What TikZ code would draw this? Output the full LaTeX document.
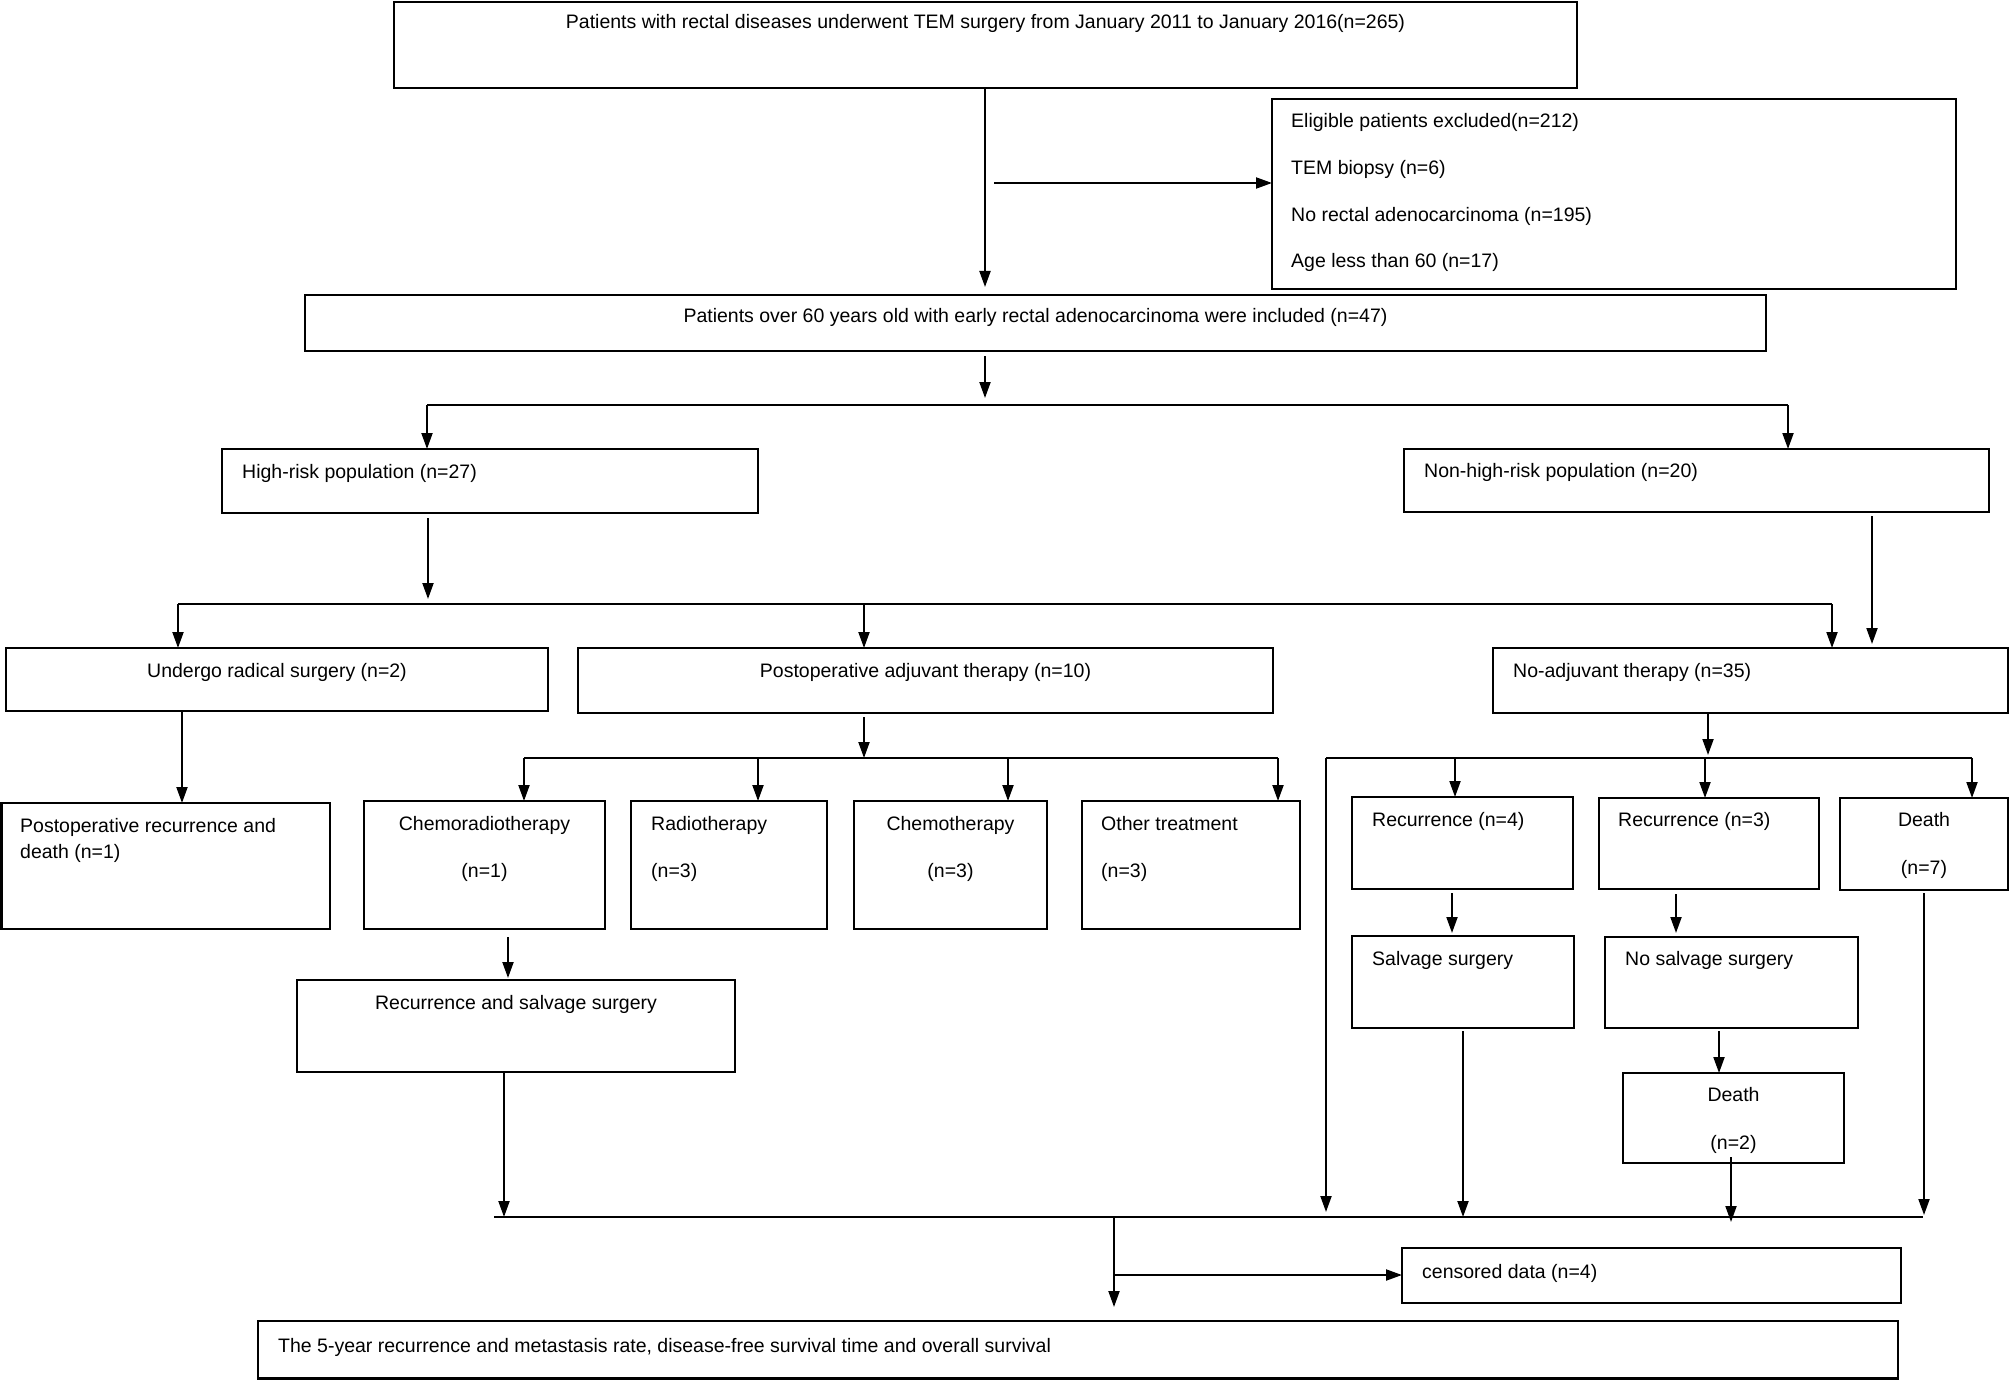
\documentclass[tikz,border=0pt]{standalone}
\usepackage{fontspec}
\setmainfont{Liberation Sans}
\usetikzlibrary{arrows.meta}
\newcommand{\flbox}[5]{\node[bx,anchor=north west,minimum width={(#4-#2)*1pt},minimum height={(#5-#3)*1pt}] (#1) at (#2,#3) {};}
\begin{document}
\begin{tikzpicture}[x=1pt,y=-1pt,
 bx/.style={draw,line width=2.5pt,inner sep=0pt,outer sep=0pt},
 txt/.style={inner sep=0pt,font=\fontsize{19.5}{23}\selectfont,text height=14pt,text depth=4pt},
 ln/.style={line width=2pt},
 arr/.style={line width=2pt,-{Triangle[length=16pt,width=11pt]}}]
\useasboundingbox (0,0) rectangle (2010,1380);

% boxes
\flbox{T}{394}{2}{1577}{88}
\flbox{E}{1272}{99}{1956}{289}
\flbox{P60}{305}{295}{1766}{351}
\flbox{HR}{222}{449}{758}{513}
\flbox{NHR}{1404}{449}{1989}{512}
\flbox{URS}{6}{648}{548}{711}
\flbox{PAT}{578}{648}{1273}{713}
\flbox{NAT}{1493}{648}{2008}{713}
\flbox{PRD}{1.5}{803}{330}{929}
\flbox{CR}{364}{801}{605}{929}
\flbox{RT}{631}{801}{827}{929}
\flbox{CH}{854}{801}{1047}{929}
\flbox{OT}{1082}{801}{1300}{929}
\flbox{RF}{1352}{797}{1573}{889}
\flbox{RH}{1599}{798}{1819}{889}
\flbox{DS}{1840}{798}{2008}{890}
\flbox{SV}{1352}{936}{1574}{1028}
\flbox{NS}{1605}{937}{1858}{1028}
\flbox{DT}{1623}{1073}{1844}{1163}
\flbox{RSS}{297}{980}{735}{1072}
\flbox{CD}{1402}{1248}{1901}{1303}
\flbox{FIN}{258}{1321}{1898}{1378.5}

% texts
\node[txt] (tT) at (985.5,24) {Patients with rectal diseases underwent TEM surgery from January 2011 to January 2016(n=265)};
\node[txt,anchor=west] (tE1) at (1291,123) {Eligible patients excluded(n=212)};
\node[txt,anchor=west] (tE2) at (1291,170) {TEM biopsy (n=6)};
\node[txt,anchor=west] (tE3) at (1291,217) {No rectal adenocarcinoma (n=195)};
\node[txt,anchor=west] (tE4) at (1291,263) {Age less than 60 (n=17)};
\node[txt] (tP60) at (1035.5,317) {Patients over 60 years old with early rectal adenocarcinoma were included (n=47)};
\node[txt,anchor=west] (tHR) at (242,473) {High-risk population (n=27)};
\node[txt,anchor=west] (tNHR) at (1424,472) {Non-high-risk population (n=20)};
\node[txt] (tURS) at (277,672) {Undergo radical surgery (n=2)};
\node[txt] (tPAT) at (925.5,672) {Postoperative adjuvant therapy (n=10)};
\node[txt,anchor=west] (tNAT) at (1513,672) {No-adjuvant therapy (n=35)};
\node[txt,anchor=west] (tPRD1) at (20,827) {Postoperative recurrence and};
\node[txt,anchor=west] (tPRD2) at (20,853) {death (n=1)};
\node[txt] (tCR1) at (484.5,825) {Chemoradiotherapy};
\node[txt] (tCR2) at (484.5,872) {(n=1)};
\node[txt,anchor=west] (tRT1) at (651,825) {Radiotherapy};
\node[txt,anchor=west] (tRT2) at (651,872) {(n=3)};
\node[txt] (tCH1) at (950.5,825) {Chemotherapy};
\node[txt] (tCH2) at (950.5,872) {(n=3)};
\node[txt,anchor=west] (tOT1) at (1101,825) {Other treatment};
\node[txt,anchor=west] (tOT2) at (1101,872) {(n=3)};
\node[txt,anchor=west] (tRF) at (1372,821) {Recurrence (n=4)};
\node[txt,anchor=west] (tRH) at (1618,821) {Recurrence (n=3)};
\node[txt] (tDS1) at (1924,821) {Death};
\node[txt] (tDS2) at (1924,869) {(n=7)};
\node[txt,anchor=west] (tSV) at (1372,960) {Salvage surgery};
\node[txt,anchor=west] (tNS) at (1625,960) {No salvage surgery};
\node[txt] (tDT1) at (1733.5,1096) {Death};
\node[txt] (tDT2) at (1733.5,1144) {(n=2)};
\node[txt] (tRSS) at (516,1004) {Recurrence and salvage surgery};
\node[txt,anchor=west] (tCD) at (1422,1273) {censored data (n=4)};
\node[txt,anchor=west] (tFIN) at (278,1347) {The 5-year recurrence and metastasis rate, disease-free survival time and overall survival};

% connectors
\coordinate (a1) at (985,287);
\draw[arr] (T.south -| a1) -- (a1);
\coordinate (ex) at (994,183);
\draw[arr] (ex) -- (ex -| E.west);

\coordinate (a2) at (985,398);
\draw[arr,shorten <=5pt] (P60.south -| a2) -- (a2);
\coordinate (s1a) at (427,405);
\coordinate (s1b) at (1788,405);
\draw[ln] (s1a) -- (s1b);
\draw[arr] (s1a) -- (s1a |- HR.north);
\draw[arr] (s1b) -- (s1b |- NHR.north);

\coordinate (a3) at (428,599);
\draw[arr,shorten <=5pt] (HR.south -| a3) -- (a3);
\coordinate (s2a) at (178,604);
\coordinate (s2b) at (864,604);
\coordinate (s2c) at (1832,604);
\draw[ln] (s2a) -- (s2c);
\draw[arr] (s2a) -- (s2a |- URS.north);
\draw[arr] (s2b) -- (s2b |- PAT.north);
\draw[arr] (s2c) -- (s2c |- NAT.north);

\coordinate (n1) at (1872,516);
\draw[arr,shorten <=4pt,shorten >=4pt] (NHR.south -| n1) -- (NAT.north -| n1);

\coordinate (u1) at (182,700);
\draw[arr] (URS.south -| u1) -- (PRD.north -| u1);

\coordinate (s3) at (864,758);
\draw[arr,shorten <=4pt] (PAT.south -| s3) -- (s3);
\coordinate (s3a) at (524,758);
\coordinate (s3b) at (758,758);
\coordinate (s3c) at (1008,758);
\coordinate (s3d) at (1278,758);
\draw[ln] (s3a) -- (s3d);
\draw[arr] (s3a) -- (s3a |- CR.north);
\draw[arr] (s3b) -- (s3b |- RT.north);
\draw[arr] (s3c) -- (s3c |- CH.north);
\draw[arr] (s3d) -- (s3d |- OT.north);

\coordinate (s4) at (1708,755);
\draw[arr,shorten <=1pt] (NAT.south -| s4) -- (s4);
\coordinate (s4a) at (1326,758);
\coordinate (s4b) at (1455,758);
\coordinate (s4c) at (1705,758);
\coordinate (s4d) at (1972,758);
\draw[ln] (s4a) -- (s4d);
\draw[arr] (s4b) -- (s4b |- RF.north);
\draw[arr] (s4c) -- (s4c |- RH.north);
\draw[arr] (s4d) -- (s4d |- DS.north);

% collector
\coordinate (c0) at (494,1217);
\coordinate (c5) at (1923,1217);
\draw[ln] (c0) -- (c5);
\draw[arr,shorten >=5pt] (s4a) -- (s4a |- c0);

\coordinate (xrf) at (1452,900);
\draw[arr,shorten <=4pt,shorten >=3pt] (RF.south -| xrf) -- (SV.north -| xrf);
\coordinate (xrh) at (1676,900);
\draw[arr,shorten <=5pt,shorten >=4pt] (RH.south -| xrh) -- (NS.north -| xrh);
\coordinate (xns) at (1719,1050);
\draw[arr,shorten <=3pt] (NS.south -| xns) -- (DT.north -| xns);
\coordinate (xsv) at (1463,1100);
\draw[arr,shorten <=3pt] (SV.south -| xsv) -- (c0 -| xsv);
\coordinate (xdt) at (1731,1190);
\draw[arr,shorten <=-6pt,shorten >=-5pt] (DT.south -| xdt) -- (c0 -| xdt);
\coordinate (xds) at (1924,1000);
\draw[arr,shorten <=3pt,shorten >=2pt] (DS.south -| xds) -- (c0 -| xds);
\coordinate (xcr) at (508,950);
\draw[arr,shorten <=8pt,shorten >=2pt] (CR.south -| xcr) -- (RSS.north -| xcr);
\coordinate (xrs) at (504,1100);
\draw[arr] (RSS.south -| xrs) -- (c0 -| xrs);

\coordinate (cf) at (1114,1217);
\draw[arr,shorten >=14pt] (cf) -- (cf |- FIN.north);
\coordinate (cb) at (1114,1275);
\draw[arr] (cb) -- (cb -| CD.west);
\end{tikzpicture}
\end{document}
